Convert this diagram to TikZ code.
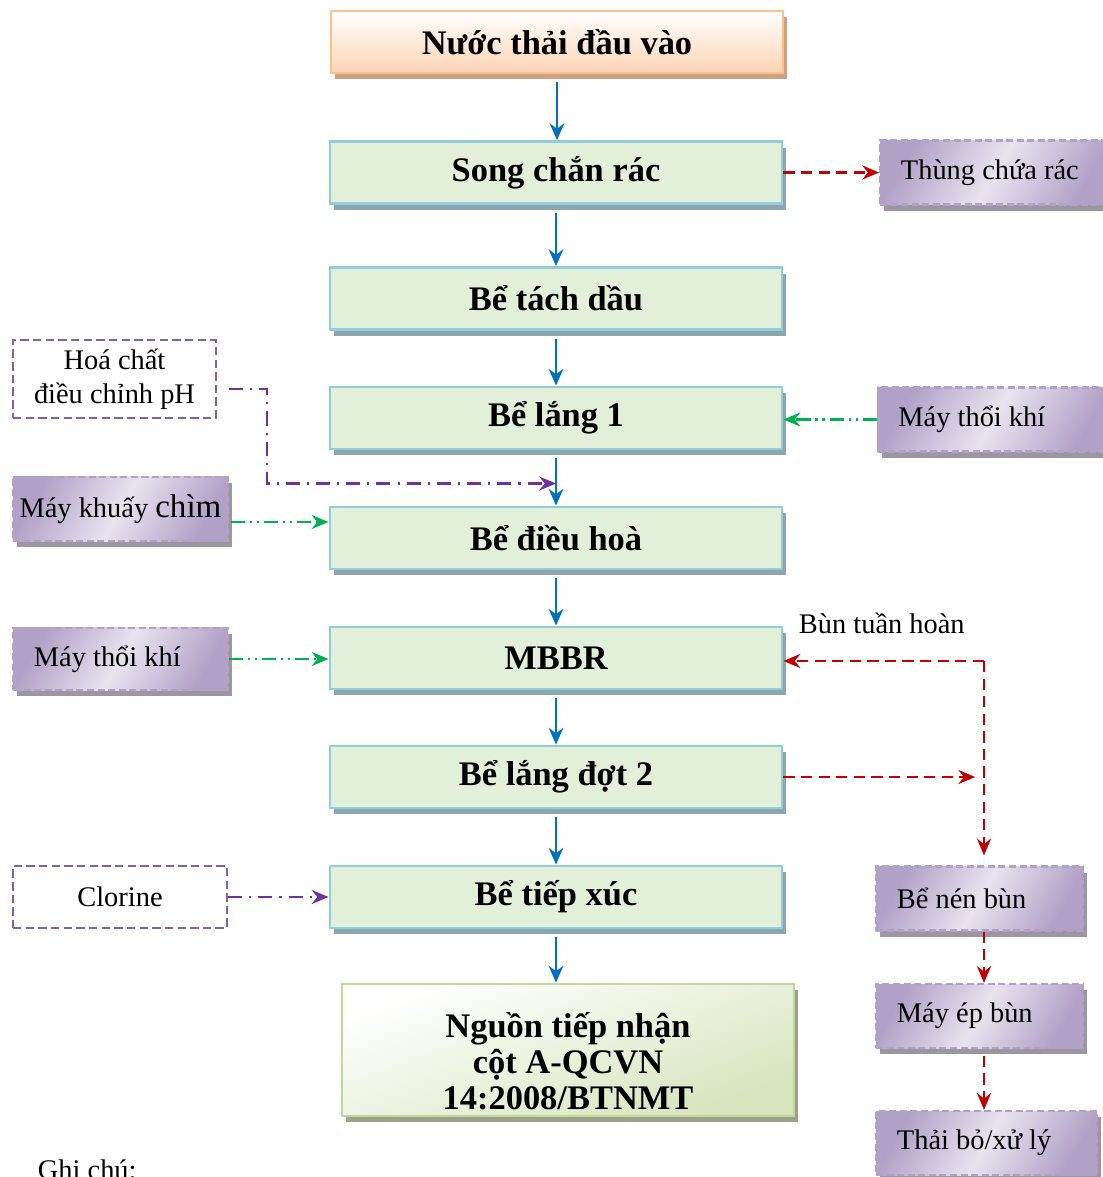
\documentclass[tikz,border=0pt]{standalone}
\usepackage{fontspec}
\setmainfont{Liberation Serif}
\usepackage{xcolor}
\usetikzlibrary{positioning, calc, arrows.meta, shadows}
\definecolor{flowblue}{RGB}{0,112,192}
\definecolor{sludgered}{RGB}{192,0,0}
\definecolor{airgreen}{RGB}{0,176,80}
\definecolor{chempurple}{RGB}{112,48,160}
\definecolor{boxgreen}{RGB}{226,239,217}
\definecolor{boxblue}{RGB}{146,205,220}
\definecolor{boxshade}{RGB}{140,166,173}
\definecolor{peach}{RGB}{251,212,180}
\definecolor{peachline}{RGB}{250,192,143}
\definecolor{peachshade}{RGB}{205,163,130}
\definecolor{lavender}{RGB}{178,161,199}
\definecolor{lavlight}{RGB}{232,227,239}
\definecolor{lavshade}{RGB}{155,150,162}
\definecolor{dashpurple}{RGB}{128,100,162}
\definecolor{endgreen}{RGB}{215,228,189}
\definecolor{endline}{RGB}{195,214,155}
\definecolor{endshade}{RGB}{156,162,138}

\begin{document}
\begin{tikzpicture}[x=0.025cm, y=-0.025cm]
	\tikzstyle{stagebox}=[rectangle, draw=boxblue, line width=2pt, fill=boxgreen, minimum width=11.3cm, minimum height=1.55cm, font=\fontsize{24.5}{25.6}\selectfont\bfseries, drop shadow={shadow xshift=2.8pt, shadow yshift=-4.3pt, fill=boxshade, opacity=1}]
	\tikzstyle{inletbox}=[stagebox, draw=peachline, top color=white, bottom color=peach, drop shadow={shadow xshift=2.8pt, shadow yshift=-4.3pt, fill=peachshade, opacity=1}]
	\tikzstyle{outletbox}=[stagebox, draw=endline, top color=white, bottom color=endgreen, shading angle=20, minimum height=3.3cm, inner ysep=0pt, align=center, drop shadow={shadow xshift=2.8pt, shadow yshift=-4.3pt, fill=endshade, opacity=1}]
	\tikzstyle{sidebox}=[rectangle, draw=lavender, line width=1.5pt, dash pattern=on 5pt off 2.5pt, top color=lavender, bottom color=lavender, middle color=lavlight, shading angle=60, minimum height=1.6cm, inner xsep=0.52cm, align=flush left, font=\fontsize{20.2}{24}\selectfont, drop shadow={shadow xshift=2.8pt, shadow yshift=-4.3pt, fill=lavshade, opacity=1}]
	\tikzstyle{chembox}=[rectangle, draw=dashpurple, line width=1.5pt, dash pattern=on 6pt off 3pt, fill=white, align=center, font=\fontsize{20.2}{24}\selectfont]
	\tikzstyle{flow}=[draw=flowblue, line width=1.4pt, -{Stealth[length=12pt, width=10.5pt, inset=4pt]}]
	\tikzstyle{sludge}=[draw=sludgered, line width=1.8pt, dash pattern=on 8pt off 4.5pt, -{Stealth[length=12pt, width=10pt, inset=4pt]}]
	\tikzstyle{air}=[draw=airgreen, line width=1.8pt, dash pattern=on 10pt off 3.5pt on 1.5pt off 3.5pt on 1.5pt off 3.5pt, -{Stealth[length=12pt, width=10pt, inset=4pt]}]
	\tikzstyle{chem}=[draw=chempurple, line width=1.8pt, dash pattern=on 10pt off 5pt on 1.5pt off 5pt, -{Stealth[length=12pt, width=10pt, inset=4pt]}]

	\useasboundingbox (0,0) rectangle (1103,1177);

	% main line
	\node[inletbox] (inlet) at (557, 42) {Nước thải đầu vào};
	\foreach \name/\ypos/\txt in {song/172.5/Song chắn rác, tach/298.5/Bể tách dầu, lang1/418/Bể lắng 1, dieu/538/Bể điều hoà, mbbr/658/MBBR, lang2/777/Bể lắng đợt 2, tiep/897/Bể tiếp xúc}{
		\node[stagebox] (\name) at (556, \ypos) {\txt};
	}
	\node[outletbox] (outlet) at (568, 1050) {\rule{0pt}{1.4em}Nguồn tiếp nhận\\cột A-QCVN\\14:2008/BTNMT};

	\foreach \a/\b in {inlet/song, song/tach, tach/lang1, lang1/dieu, dieu/mbbr, mbbr/lang2, lang2/tiep, tiep/outlet}{
		\draw[flow, shorten <=0.2cm] (\a.south) -- (\a.south |- \b.north);
	}

	% left side
	\node[chembox, minimum width=5.075cm, minimum height=1.95cm] (hoa) at (114.5, 379) {Hoá chất\\điều chỉnh pH};
	\node[sidebox, inner xsep=0.05cm, align=center, minimum width=5.375cm] (mkc) at (120.5, 509) {Máy khuấy {\fontsize{23.5}{24}\selectfont chìm}};
	\node[sidebox, text width=4.325cm, minimum height=1.55cm] (may2) at (120.5, 659) {Máy thổi khí};
	\node[chembox, minimum width=5.35cm, minimum height=1.55cm] (clo) at (120, 897) {Clorine};

	\coordinate (mix) at ($(lang1.south)!0.6!(dieu.north)$);
	\draw[chem, shorten <=0.3cm] ($(hoa.east)+(0,10)$) -- ++(50,0) |- (mix);
	\draw[air] ($(mkc.east)+(2,13)$) -- ($(dieu.west)+(0,-16)$);
	\draw[air] (may2.east) -- (may2.east -| mbbr.west);
	\draw[chem] (clo.east) -- (clo.east -| tiep.west);

	% right side
	\node[sidebox, text width=4.7cm] (thung) at (995, 172.5) {Thùng chứa rác};
	\node[sidebox, text width=4.75cm] (may1) at (993.5, 419.5) {Máy thổi khí};
	\node[sidebox, text width=4.125cm] (nen) at (979.5, 898.5) {Bể nén bùn};
	\node[sidebox, text width=4.125cm] (ep) at (979.5, 1016) {Máy ép bùn};
	\node[sidebox, text width=4.475cm] (thai) at (986.5, 1143) {Thải bỏ/xử lý};
	\node[anchor=base west, font=\fontsize{20.2}{24}\selectfont] (bth) at (794, 633) {Bùn tuần hoàn};

	\draw[sludge] (song.east) -- (song.east -| thung.west);
	\draw[air] (may1.west) -- (may1.west -| lang1.east);

	\coordinate (ret) at (984, 661);
	\draw[sludge] (ret) -- (ret -| mbbr.east);
	\draw[sludge, shorten >=0.22cm] (lang2.east) -- (ret |- lang2.east);
	\draw[sludge, shorten >=0.25cm] (ret) -- (ret |- nen.north);
	\draw[sludge] (nen.south -| ret) -- (ep.north -| ret);
	\draw[sludge, shorten <=0.17cm] (ep.south -| ret) -- (thai.north -| ret);

	\node[anchor=base west, font=\fontsize{20.2}{24}\selectfont] (note) at (33, 1179) {Ghi chú:};
\end{tikzpicture}
\end{document}
